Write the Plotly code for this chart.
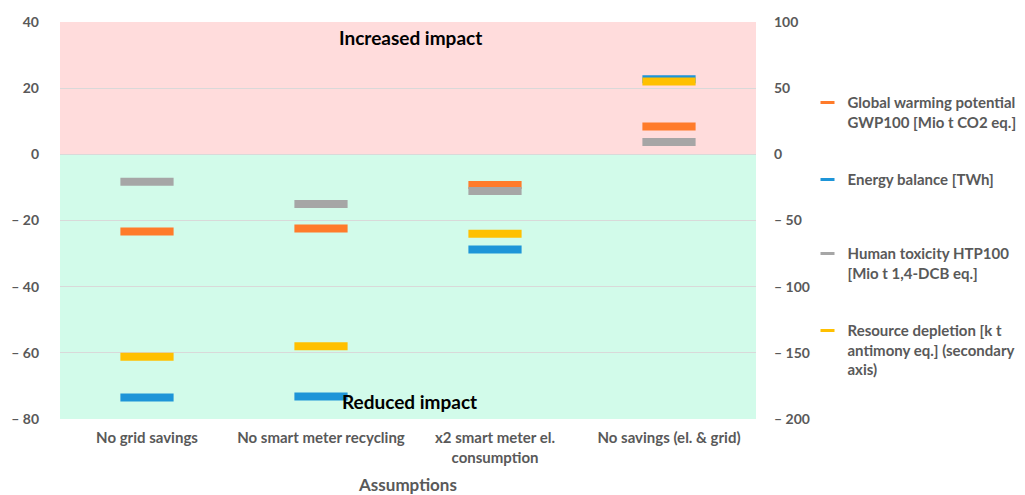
import plotly.graph_objects as go

# ---- data ----
categories = ["No grid savings", "No smart meter recycling",
              "x2 smart meter el.<br>consumption", "No savings (el. & grid)"]
gwp = [-23.3, -22.4, -9.3, 8.4]          # primary axis
energy = [-73.5, -73.2, -28.8, 22.7]     # primary axis
htp = [-8.3, -15.0, -11.1, 3.7]          # primary axis
resource = [-153, -145, -60, 55]         # secondary axis

series_names = [
    "Global warming potential<br>GWP100 [Mio t CO2 eq.]",
    "Energy balance [TWh]",
    "Human toxicity HTP100<br>[Mio t 1,4-DCB eq.]",
    "Resource depletion [k t<br>antimony eq.] (secondary<br>axis)",
]
left_tickvals = [40, 20, 0, -20, -40, -60, -80]
left_ticktext = ["40", "20", "0", "– 20", "– 40", "– 60", "– 80"]
right_tickvals = [100, 50, 0, -50, -100, -150, -200]
right_ticktext = ["100", "50", "0", "– 50", "– 100", "– 150", "– 200"]

colors = ["#FF7B2A", "#1E95D8", "#A6A6A6", "#FFC000"]
FONT = "Lato"
GREY = "#595959"

fig = go.Figure()

# background zones
fig.add_shape(type="rect", xref="paper", yref="y", x0=0, x1=1, y0=0, y1=40,
              fillcolor="#FFDCDC", line_width=0, layer="below")
fig.add_shape(type="rect", xref="paper", yref="y", x0=0, x1=1, y0=-80, y1=0,
              fillcolor="#D2FBEA", line_width=0, layer="below")

data = [(gwp, "y"), (energy, "y"), (htp, "y"), (resource, "y2")]
for i, ((vals, ax), name, col) in enumerate(zip(data, series_names, colors)):
    fig.add_trace(go.Scatter(
        x=categories, y=vals, yaxis=ax, mode="markers", showlegend=False,
        marker=dict(symbol="line-ew", size=38, line=dict(width=8, color=col), color=col),
        hoverinfo="y",
    ))

legend_y = [0.838, 0.644, 0.458, 0.264]
for i, (name, col) in enumerate(zip(series_names, colors)):
    lg = "legend" if i == 0 else f"legend{i+1}"
    fig.add_trace(go.Scatter(
        x=[None], y=[None], mode="markers", name=name, legend=lg,
        marker=dict(symbol="line-ew", size=10, line=dict(width=3, color=col), color=col),
    ))

legend_common = dict(x=1.074, xanchor="left", yanchor="top", valign="top",
                     bgcolor="rgba(0,0,0,0)",
                     font=dict(family=FONT, size=15, color=GREY, weight="bold"))
fig.update_layout(
    legend=dict(y=legend_y[0], **legend_common),
    legend2=dict(y=legend_y[1], **legend_common),
    legend3=dict(y=legend_y[2], **legend_common),
    legend4=dict(y=legend_y[3], **legend_common),
)

fig.add_annotation(text="Increased impact", x=0.5, xref="paper", xshift=2, y=35.2, yref="y",
                   showarrow=False, font=dict(family=FONT, size=19, color="black", weight="bold"))
fig.add_annotation(text="Reduced impact", x=0.5, xref="paper", xshift=1, y=-74.8, yref="y",
                   showarrow=False, font=dict(family=FONT, size=19, color="black", weight="bold"))

fig.update_layout(
    width=1025, height=487,
    margin=dict(l=52, r=272, t=14, b=76),
    paper_bgcolor="white", plot_bgcolor="rgba(0,0,0,0)",
    xaxis=dict(type="category", range=[-0.5, 3.5], showgrid=False, zeroline=False,
               showline=False, ticks="", automargin=False, ticklabelstandoff=8,
               tickfont=dict(family=FONT, size=15, color=GREY, weight="bold"),
               title=dict(text="Assumptions", standoff=21,
                          font=dict(family=FONT, size=17, color=GREY, weight="bold"))),
    yaxis=dict(range=[-80, 40], tickvals=left_tickvals, ticktext=left_ticktext,
               showgrid=True, gridcolor="#D9D9D9", gridwidth=1, zeroline=False,
               showline=False, ticklabelstandoff=20, automargin=False,
               tickfont=dict(family=FONT, size=14, color=GREY, weight="bold")),
    yaxis2=dict(range=[-200, 100], overlaying="y", side="right",
                tickvals=right_tickvals, ticktext=right_ticktext, automargin=False,
                showgrid=False, zeroline=False, showline=False, ticklabelstandoff=17,
                tickfont=dict(family=FONT, size=14, color=GREY, weight="bold")),
)

fig.write_html("out.html")
